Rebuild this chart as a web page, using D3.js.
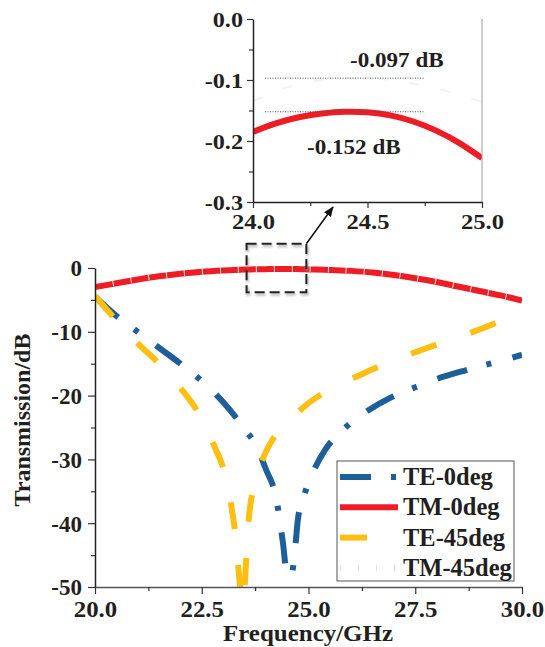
<!DOCTYPE html>
<html>
<head>
<meta charset="utf-8">
<script src="https://cdn.jsdelivr.net/npm/d3@7"></script>
<style>
  body { margin: 0; background: #fff; }
  text { font-family: "Liberation Serif", "Times New Roman", serif; font-weight: bold; fill: #231f20; }
</style>
</head>
<body>
<svg id="chart" width="545" height="647"></svg>
<script>
// Transmission spectra (dB) versus frequency (GHz)
const freqTE0 = [20.0, 20.5, 21.0, 21.5, 22.0, 22.5, 23.0, 23.5, 23.75, 24.0, 24.25, 24.4, 24.5, 24.6, 24.68, 24.75, 24.9, 25.1, 25.4, 25.8, 26.25, 26.9, 27.5, 28.0, 28.7, 29.25, 29.75, 30.0];
const te0 = [-4.5, -7.5, -10.0, -12.5, -15.0, -17.7, -21.0, -25.2, -27.6, -31.5, -36.3, -43.0, -48.0, -48.0, -44.5, -39.5, -35.6, -32.1, -28.4, -25.4, -23.0, -20.4, -18.7, -17.4, -16.0, -15.0, -14.1, -13.6];

const freqTM0 = [20.0, 20.5, 21.0, 21.5, 22.0, 22.5, 23.0, 23.5, 24.0, 24.1, 24.2, 24.3, 24.4, 24.5, 24.6, 24.7, 24.8, 24.9, 25.0, 25.5, 26.0, 26.5, 27.0, 27.5, 28.0, 28.5, 29.0, 29.5, 30.0];
const tm0 = [-3.0, -2.4, -1.8, -1.3, -0.9, -0.6, -0.4, -0.25, -0.185, -0.171, -0.161, -0.155, -0.152, -0.153, -0.158, -0.168, -0.183, -0.203, -0.228, -0.3, -0.45, -0.7, -1.1, -1.6, -2.2, -2.9, -3.6, -4.3, -5.1];

const freqTE45 = [20.0, 20.5, 21.0, 21.5, 22.0, 22.4, 22.8, 23.05, 23.2, 23.3, 23.4, 23.47, 23.53, 23.6, 23.75, 23.95, 24.15, 24.4, 24.8, 25.5, 26.1, 26.9, 27.5, 28.3, 28.9, 29.7, 30.0];
const te45 = [-4.4, -8.2, -11.8, -15.0, -18.8, -22.5, -28.0, -32.5, -37.6, -42.5, -50.0, -53.0, -47.0, -39.5, -33.6, -29.6, -27.0, -25.1, -22.3, -19.0, -17.1, -14.7, -13.2, -11.3, -9.9, -7.8, -7.1];

const freqTM45 = [20.0, 21.0, 22.0, 23.0, 23.5, 24.0, 24.1, 24.2, 24.3, 24.4, 24.5, 24.6, 24.7, 24.8, 24.9, 25.0, 25.5, 26.0, 27.0, 28.0, 29.0, 30.0];
const tm45 = [-2.9, -1.7, -0.85, -0.35, -0.2, -0.135, -0.118, -0.107, -0.100, -0.097, -0.097, -0.100, -0.106, -0.114, -0.124, -0.136, -0.25, -0.4, -1.05, -2.15, -3.55, -5.0];

const xTicks = [20.0, 22.5, 25.0, 27.5, 30.0];
const yTicks = [0, -10, -20, -30, -40, -50];
const insetXTicks = [24.0, 24.5, 25.0];
const insetYTicks = [0.0, -0.1, -0.2, -0.3];
const peakLabels = [-0.097, -0.152];

const seriesNames = ["TE-0deg", "TM-0deg", "TE-45deg", "TM-45deg"];

const svg = d3.select("#chart");
const zip = (fs, vs) => fs.map((f, i) => ({ f, v: vs[i] }));

// widen glyphs horizontally (heavy, wide serif look)
function widen(sel, k) {
  sel.each(function () {
    const w = this.getComputedTextLength();
    d3.select(this).attr("textLength", w * k).attr("lengthAdjust", "spacingAndGlyphs");
  });
}

const styles = {
  "TE-0deg":  { color: "#1e5f99", width: 6, dash: "31,20,5,22", curve: d3.curveMonotoneX },
  "TM-0deg":  { color: "#ee1c25", width: 6, dash: null, curve: d3.curveCatmullRom },
  "TE-45deg": { color: "#fdbf12", width: 6, dash: "27,36", curve: d3.curveMonotoneX },
  "TM-45deg": { color: "#cdeede", width: 6, dash: "1,17", curve: d3.curveCatmullRom }
};
const data = {
  "TE-0deg": zip(freqTE0, te0),
  "TM-0deg": zip(freqTM0, tm0),
  "TE-45deg": zip(freqTE45, te45),
  "TM-45deg": zip(freqTM45, tm45)
};

// ---------- main plot ----------
const x = d3.scaleLinear().domain([20, 30]).range([95, 522]);
const y = d3.scaleLinear().domain([0, -50]).range([268, 587]);

svg.append("clipPath").attr("id", "mainClip")
  .append("rect").attr("x", 95).attr("y", 240).attr("width", 427).attr("height", 347);

const plot = svg.append("g").attr("clip-path", "url(#mainClip)");
["TE-0deg", "TE-45deg", "TM-0deg", "TM-45deg"].forEach(name => {
  const s = styles[name];
  const line = d3.line().x(d => x(d.f)).y(d => y(d.v)).curve(s.curve);
  plot.append("path").datum(data[name])
    .attr("d", line).attr("fill", "none")
    .attr("stroke", s.color).attr("stroke-width", s.width)
    .attr("stroke-dasharray", s.dash);
});

const fmt1 = d3.format(".1f");
const minus = s => s.replace("\u2212", "-");

// bottom axis
const xAxis = svg.append("g").attr("transform", `translate(0,${y(-50)})`)
  .call(d3.axisBottom(x).tickValues(xTicks).tickSize(7).tickSizeOuter(0).tickPadding(6).tickFormat(d => fmt1(d)));
svg.append("g").attr("transform", `translate(0,${y(-50)})`)
  .call(d3.axisBottom(x).tickValues(d3.range(21.25, 30, 2.5)).tickSize(4).tickSizeOuter(0).tickFormat(""))
  .select(".domain").remove();
// left axis
const yAxis = svg.append("g").attr("transform", `translate(${x(20)},0)`)
  .call(d3.axisLeft(y).tickValues(yTicks).tickSize(7).tickSizeOuter(0).tickPadding(6).tickFormat(d => minus(d3.format("d")(d))));
svg.append("g").attr("transform", `translate(${x(20)},0)`)
  .call(d3.axisLeft(y).tickValues(d3.range(-5, -50, -10)).tickSize(4).tickSizeOuter(0).tickFormat(""))
  .select(".domain").remove();

xAxis.select(".domain").attr("stroke", "#555").attr("stroke-width", 1.5);
yAxis.select(".domain").attr("stroke", "#222").attr("stroke-width", 1.5);
[xAxis, yAxis].forEach(a => a.selectAll(".tick text").style("font-size", "23px").attr("fill", "#231f20")
  .style("font-family", '"Liberation Serif", serif').style("font-weight", "bold"));
xAxis.selectAll(".tick text").attr("dy", "0.74em");
yAxis.selectAll(".tick text").attr("dy", "0.34em");
widen(xAxis.selectAll(".tick text"), 1.08);

const xTitle = svg.append("text").attr("x", 308).attr("y", 641).attr("text-anchor", "middle")
  .style("font-size", "24px").text("Frequency/GHz");
svg.append("text").attr("transform", "translate(30,420) rotate(-90)").attr("text-anchor", "middle")
  .style("font-size", "24px").text("Transmission/dB");
widen(xTitle, 1.04);

// ---------- legend ----------
const legend = svg.append("g");
legend.append("rect").attr("x", 337).attr("y", 461).attr("width", 177).attr("height", 120)
  .attr("fill", "#fff").attr("stroke", "#555").attr("stroke-width", 1);
seriesNames.forEach((name, i) => {
  const cy = 477 + i * 30.3;
  const s = styles[name];
  legend.append("line").attr("x1", 340).attr("x2", 398).attr("y1", cy).attr("y2", cy)
    .attr("stroke", s.color).attr("stroke-width", s.width).attr("stroke-dasharray", s.dash);
  legend.append("text").attr("x", 403).attr("y", cy + 8).style("font-size", "24.5px").text(name);
});

// ---------- zoom box and arrow ----------
const defs = svg.append("defs");
defs.append("filter").attr("id", "soft").append("feGaussianBlur").attr("stdDeviation", 1.2);
defs.append("marker").attr("id", "arrow").attr("viewBox", "0 0 10 10").attr("refX", 9).attr("refY", 5)
  .attr("markerWidth", 7).attr("markerHeight", 7).attr("orient", "auto")
  .append("path").attr("d", "M0,1 L10,5 L0,9 Z").attr("fill", "#111");

const bx0 = x(23.55), bx1 = x(24.95), by0 = y(3.8), by1 = y(-3.8);
svg.append("rect").attr("x", bx0 + 1).attr("y", by0 + 2).attr("width", bx1 - bx0).attr("height", by1 - by0)
  .attr("fill", "none").attr("stroke", "#999").attr("stroke-width", 3).attr("stroke-dasharray", "10,5")
  .attr("filter", "url(#soft)").attr("opacity", 0.6);
svg.append("rect").attr("x", bx0).attr("y", by0).attr("width", bx1 - bx0).attr("height", by1 - by0)
  .attr("fill", "none").attr("stroke", "#222").attr("stroke-width", 2).attr("stroke-dasharray", "10,5");
svg.append("line").attr("x1", bx1).attr("y1", by0).attr("x2", 333).attr("y2", 207)
  .attr("stroke", "#111").attr("stroke-width", 1.5).attr("marker-end", "url(#arrow)");

// ---------- inset ----------
const ix = d3.scaleLinear().domain([24, 25]).range([253, 482]);
const iy = d3.scaleLinear().domain([0, -0.3]).range([19, 202]);
svg.append("clipPath").attr("id", "insetClip")
  .append("rect").attr("x", 253).attr("y", 19).attr("width", 229).attr("height", 183);
const iline = d3.line().x(d => ix(d.f)).y(d => iy(d.v)).curve(d3.curveCatmullRom);
const inset = svg.append("g").attr("clip-path", "url(#insetClip)");

// reference levels of both peaks
peakLabels.forEach(v => {
  svg.append("line").attr("x1", 265).attr("x2", ix(24.75)).attr("y1", iy(v)).attr("y2", iy(v))
    .attr("stroke", "#555").attr("stroke-width", 1).attr("stroke-dasharray", "1,1.5");
});
inset.append("path").datum(data["TM-45deg"].filter(d => d.f >= 23.9 && d.f <= 25.1))
  .attr("d", iline).attr("fill", "none").attr("stroke", "#eaf6f1").attr("stroke-width", 2)
  .attr("stroke-dasharray", "10,22");
inset.append("path").datum(data["TM-0deg"].filter(d => d.f >= 23.9 && d.f <= 25.1))
  .attr("d", iline).attr("fill", "none").attr("stroke", styles["TM-0deg"].color).attr("stroke-width", 6);

svg.append("line").attr("x1", 482).attr("x2", 482).attr("y1", 19).attr("y2", 202)
  .attr("stroke", "#999").attr("stroke-width", 1);

const ixAxis = svg.append("g").attr("transform", `translate(0,${iy(-0.3)})`)
  .call(d3.axisBottom(ix).tickValues(insetXTicks).tickSize(6).tickSizeOuter(0).tickPadding(4).tickFormat(d => fmt1(d)));
svg.append("g").attr("transform", `translate(0,${iy(-0.3)})`)
  .call(d3.axisBottom(ix).tickValues([24.25, 24.75]).tickSize(4).tickSizeOuter(0).tickFormat(""))
  .select(".domain").remove();
const iyAxis = svg.append("g").attr("transform", `translate(${ix(24)},0)`)
  .call(d3.axisLeft(iy).tickValues(insetYTicks).tickSize(6).tickSizeOuter(0).tickPadding(4).tickFormat(d => minus(fmt1(d))));
svg.append("g").attr("transform", `translate(${ix(24)},0)`)
  .call(d3.axisLeft(iy).tickValues([-0.05, -0.15, -0.25]).tickSize(4).tickSizeOuter(0).tickFormat(""))
  .select(".domain").remove();

[ixAxis, iyAxis].forEach(a => {
  a.select(".domain").attr("stroke", "#222").attr("stroke-width", 1.5);
  a.selectAll(".tick text").style("font-size", "22px").attr("fill", "#231f20")
    .style("font-family", '"Liberation Serif", serif').style("font-weight", "bold");
});
ixAxis.selectAll(".tick text").attr("dy", "0.75em");
iyAxis.selectAll(".tick text").attr("dy", "0.34em");
widen(ixAxis.selectAll(".tick text"), 1.12);
widen(iyAxis.selectAll(".tick text"), 1.1);
svg.selectAll(".tick line").attr("stroke", "#333").attr("stroke-width", 1.2);

const l1 = svg.append("text").attr("x", 350).attr("y", 67).style("font-size", "22px").text(`${peakLabels[0]} dB`);
const l2 = svg.append("text").attr("x", 307).attr("y", 154).style("font-size", "22px").text(`${peakLabels[1]} dB`);
widen(l1, 1.05);
widen(l2, 1.05);
</script>
</body>
</html>
